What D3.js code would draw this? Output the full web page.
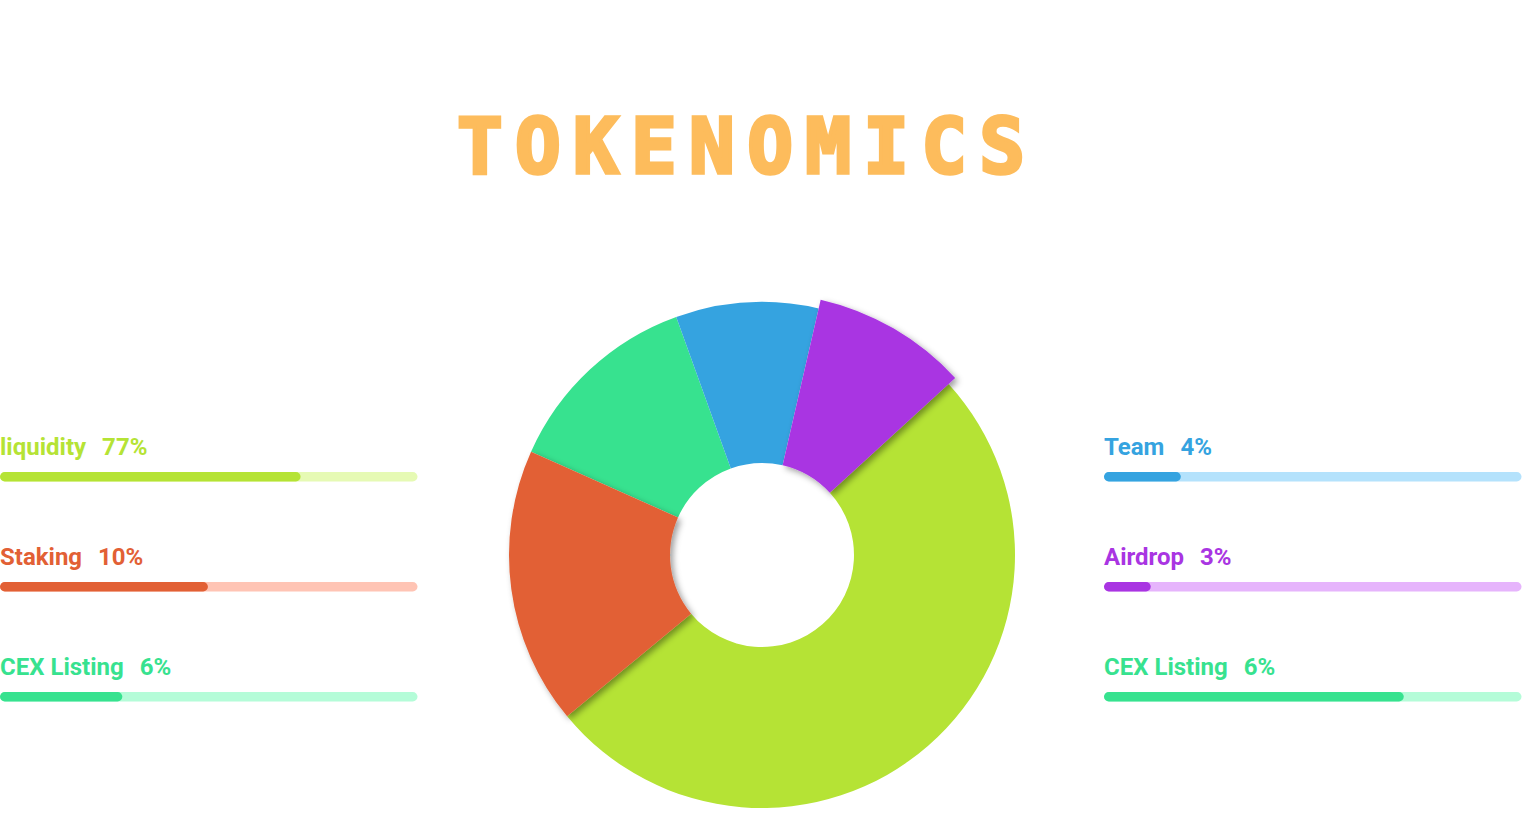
<!DOCTYPE html>
<html>
<head>
<meta charset="utf-8">
<script src="https://cdn.jsdelivr.net/npm/d3@7"></script>
<style>
  html, body { margin: 0; padding: 0; background: #ffffff; }
  svg { display: block; }
</style>
</head>
<body>
<svg id="chart" width="1522" height="836"></svg>
<script>
// ---- data ----
const title = "TOKENOMICS";

// donut slices (share of the circle)
const sliceNames  = ["liquidity", "Staking", "CEX Listing", "Team", "Airdrop"];
const sliceValues = [50.8, 17.7, 12.8, 9.1, 9.6];
const sliceColors = ["#b5e335", "#e26035", "#37e28f", "#35a3e0", "#a935e2"];
const raisedSlices = ["Staking", "Airdrop"];   // drawn with drop shadow
const enlargedSlices = ["Airdrop"];            // drawn with bigger radius

// legend (left column, right column)
const leftLabels   = ["liquidity", "Staking", "CEX Listing"];
const leftPct      = ["77%", "10%", "6%"];
const leftFill     = [0.72, 0.498, 0.293];
const leftColors   = ["#b5e335", "#e26035", "#37e28f"];
const leftTracks   = ["#e6fab4", "#ffc4b4", "#b4fcd8"];

const rightLabels  = ["Team", "Airdrop", "CEX Listing"];
const rightPct     = ["4%", "3%", "6%"];
const rightFill    = [0.184, 0.112, 0.718];
const rightColors  = ["#35a3e0", "#a935e2", "#37e28f"];
const rightTracks  = ["#b4e2fc", "#e6b4fc", "#b4fcd8"];

// ---- drawing ----
const svg = d3.select("#chart");
const defs = svg.append("defs");
const f = defs.append("filter").attr("id", "shadow")
  .attr("x", "-20%").attr("y", "-20%").attr("width", "140%").attr("height", "140%");
f.append("feDropShadow").attr("dx", 3).attr("dy", 3).attr("stdDeviation", 3)
  .attr("flood-color", "#000").attr("flood-opacity", 0.38);

// title
svg.append("text")
  .attr("x", 457).attr("y", 173)
  .attr("textLength", 568).attr("lengthAdjust", "spacing")
  .style("font-family", "'DejaVu Sans Mono', monospace")
  .style("font-weight", "bold")
  .style("font-size", "76px")
  .style("fill", "#fdbc5c")
  .style("stroke", "#fdbc5c")
  .style("stroke-width", "3.5px")
  .style("stroke-linejoin", "miter")
  .text(title);

// donut
const cx = 762, cy = 555;
const innerR = 92, outerR = 253, bigR = 262;
const pie = d3.pie().sort(null).value(d => d.value)
  .startAngle(47.5 * Math.PI / 180)
  .endAngle(47.5 * Math.PI / 180 + 2 * Math.PI);
const data = sliceNames.map((n, i) => ({ name: n, value: sliceValues[i], color: sliceColors[i] }));
const arcs = pie(data);
const arc = d3.arc().innerRadius(innerR)
  .outerRadius(d => enlargedSlices.includes(d.data.name) ? bigR : outerR);

const g = svg.append("g").attr("transform", `translate(${cx},${cy})`);
const order = arcs.slice().sort((a, b) =>
  (raisedSlices.includes(a.data.name) ? 1 : 0) - (raisedSlices.includes(b.data.name) ? 1 : 0));
g.selectAll("path").data(order).join("path")
  .attr("d", arc)
  .attr("fill", d => d.data.color)
  .attr("filter", d => raisedSlices.includes(d.data.name) ? "url(#shadow)" : null);

// legend
const barW = 417.5;
const xBar = d3.scaleLinear().domain([0, 1]).range([0, barW]);
const rowY = d3.scalePoint().domain([0, 1, 2]).range([455, 675]);

function legend(x0, labels, pct, fill, colors, tracks) {
  const grp = svg.append("g").attr("transform", `translate(${x0},0)`);
  labels.forEach((lab, i) => {
    const y = rowY(i);
    const t = grp.append("text")
      .attr("x", 0).attr("y", y)
      .style("font-family", "Roboto, 'Noto Sans', sans-serif")
      .style("font-weight", "bold")
      .style("font-size", "24px")
      .style("fill", colors[i])
      .text(lab);
    const w = t.node().getComputedTextLength();
    grp.append("text")
      .attr("x", w + 16).attr("y", y)
      .style("font-family", "Roboto, 'Noto Sans', sans-serif")
      .style("font-weight", "bold")
      .style("font-size", "24px")
      .style("fill", colors[i])
      .text(pct[i]);
    grp.append("rect")
      .attr("x", 0).attr("y", y + 17).attr("width", xBar(1)).attr("height", 9.5)
      .attr("rx", 4.75).attr("fill", tracks[i]);
    grp.append("rect")
      .attr("x", 0).attr("y", y + 17).attr("width", xBar(fill[i])).attr("height", 9.5)
      .attr("rx", 4.75).attr("fill", colors[i]);
  });
}
legend(0, leftLabels, leftPct, leftFill, leftColors, leftTracks);
legend(1104, rightLabels, rightPct, rightFill, rightColors, rightTracks);
</script>
</body>
</html>
